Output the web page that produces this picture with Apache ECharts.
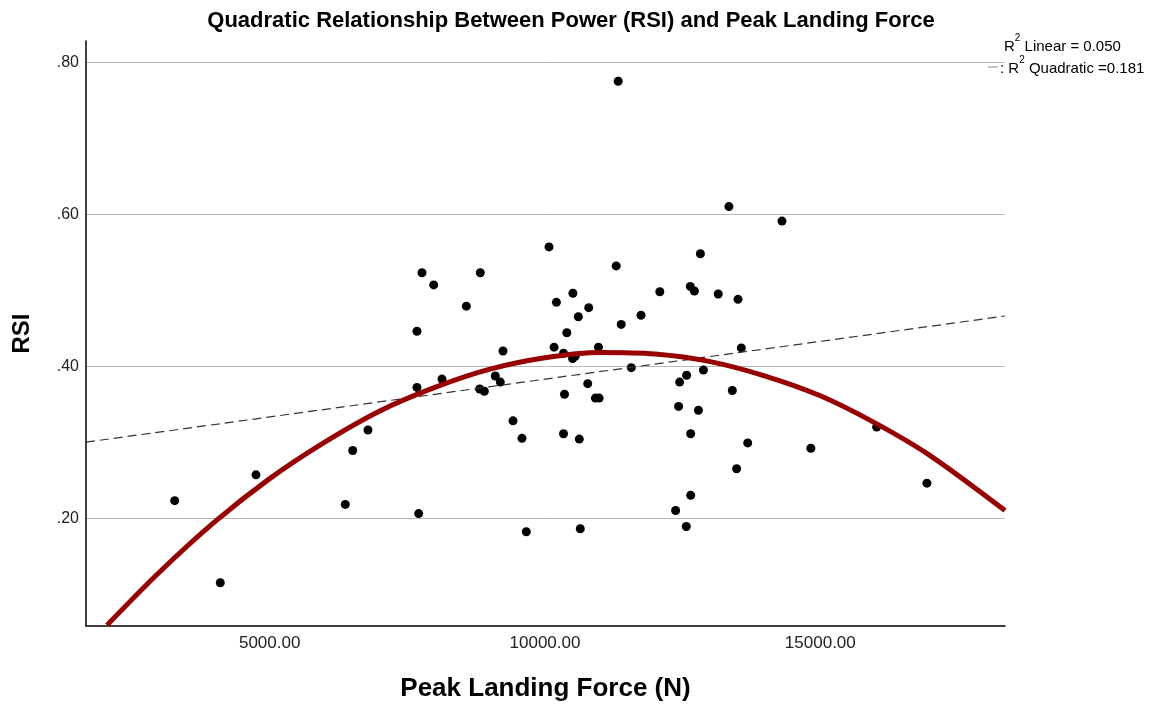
<!DOCTYPE html>
<html>
<head>
<meta charset="utf-8">
<title>RSI vs Peak Landing Force</title>
<script src="https://cdn.jsdelivr.net/npm/echarts@6/dist/echarts.min.js"></script>
<style>
    html, body { margin: 0; padding: 0; background: #fff; overflow: hidden; }
    #chartdiv { width: 1153px; height: 706px; }
</style>
</head>
<body>
<div id="chartdiv"></div>
<script>
// observed cases: peak landing force (N) and RSI
var forceN = [7766, 8825, 7979, 8571, 7675, 9237, 8129, 7675, 8814, 8898,
              9097, 9188, 9419, 9582, 6785, 6508, 4751, 3275, 6373, 7706,
              9660, 4103, 11329, 13340, 14304, 10073, 12822, 11293, 12639, 12713,
              12085, 10507, 13146, 13505, 10207, 10794, 10605, 11744, 11384, 10396,
              10165, 10970, 13565, 10336, 10501, 10548, 11567, 12877, 12572, 12445,
              10776, 10354, 10915, 10983, 13402, 12426, 12786, 16023, 10336, 10623,
              12646, 13681, 14828, 13480, 16936, 12646, 12372, 10641, 12566];
var rsi = [0.523, 0.523, 0.507, 0.479, 0.446, 0.420, 0.383, 0.372, 0.370, 0.367,
           0.387, 0.379, 0.328, 0.305, 0.316, 0.289, 0.257, 0.223, 0.218, 0.206,
           0.182, 0.115, 0.775, 0.610, 0.591, 0.557, 0.548, 0.532, 0.505, 0.499,
           0.498, 0.496, 0.495, 0.488, 0.484, 0.477, 0.465, 0.467, 0.455, 0.444,
           0.425, 0.425, 0.424, 0.417, 0.410, 0.413, 0.398, 0.395, 0.388, 0.379,
           0.377, 0.363, 0.358, 0.358, 0.368, 0.347, 0.342, 0.320, 0.311, 0.304,
           0.311, 0.299, 0.292, 0.265, 0.246, 0.230, 0.210, 0.186, 0.189];

// fit lines
var quadFitX = [2045, 3000, 4000, 5000, 6000, 7000, 8000, 9000, 10000,
                11000, 12000, 13000, 14000, 15000, 16000, 17000, 18354];
var quadFitY = [0.059, 0.129, 0.195, 0.252, 0.300, 0.341, 0.372, 0.396, 0.411,
                0.418, 0.416, 0.406, 0.387, 0.361, 0.325, 0.282, 0.210];
var linFitX = [1664, 18354];
var linFitY = [0.300, 0.466];

var xTicks = [5000, 10000, 15000];
var yTicks = [0.2, 0.4, 0.6, 0.8];

var fontName = '"Liberation Sans", Arial, sans-serif';

function zip(a, b) {
    var out = [];
    for (var i = 0; i < a.length; i++) out.push([a[i], b[i]]);
    return out;
}

var chartDom = document.getElementById('chartdiv');
var plot = echarts.init(chartDom, null, { renderer: 'canvas' });

var legendRich = {
    n: { fontFamily: fontName, fontSize: 15, color: '#000', lineHeight: 21, verticalAlign: 'bottom' },
    s: { fontFamily: fontName, fontSize: 10, color: '#000', lineHeight: 21, verticalAlign: 'top' }
};

var options = {
    animation: false,
    backgroundColor: '#fff',
    textStyle: { fontFamily: fontName },
    title: {
        text: 'Quadratic Relationship Between Power (RSI) and Peak Landing Force',
        left: 566,
        top: 5,
        textAlign: 'center',
        textStyle: { fontFamily: fontName, fontSize: 22, fontWeight: 'bold', color: '#000' }
    },
    grid: {
        left: 86,
        right: 148,
        top: 41,
        bottom: 80,
        containLabel: false,
        outerBoundsMode: 'none'
    },
    xAxis: {
        type: 'value',
        min: 1664,
        max: 18354,
        name: 'Peak Landing Force (N)',
        nameLocation: 'middle',
        nameGap: 50,
        nameTextStyle: { fontFamily: fontName, fontSize: 26, fontWeight: 'bold', color: '#000' },
        axisLine: { show: true, lineStyle: { color: '#000', width: 1.5 } },
        axisTick: { show: false, customValues: xTicks },
        splitLine: { show: false },
        axisLabel: {
            customValues: xTicks,
            margin: 9,
            fontSize: 17,
            color: '#222',
            fontFamily: fontName,
            formatter: function (v) { return v.toFixed(2); }
        }
    },
    yAxis: {
        type: 'value',
        min: 0.058,
        max: 0.828,
        name: 'RSI',
        nameLocation: 'middle',
        nameGap: 52,
        nameTextStyle: { fontFamily: fontName, fontSize: 24, fontWeight: 'bold', color: '#000' },
        axisLine: { show: true, lineStyle: { color: '#000', width: 1.5 } },
        axisTick: { show: false, customValues: yTicks },
        splitLine: { show: true, lineStyle: { color: '#b8b8b8', width: 1 } },
        axisLabel: {
            customValues: yTicks,
            margin: 7,
            fontSize: 16,
            color: '#222',
            fontFamily: fontName,
            formatter: function (v) { return v.toFixed(2).replace(/^0/, ''); }
        }
    },
    graphic: [
        {
            type: 'text',
            left: 1004,
            top: 33,
            style: { text: '{n|R}{s|2}{n| Linear = 0.050}', rich: legendRich }
        },
        {
            type: 'line',
            shape: { x1: 988, y1: 67, x2: 998, y2: 67 },
            style: { stroke: '#888', lineWidth: 1 }
        },
        {
            type: 'text',
            left: 1000,
            top: 55,
            style: { text: '{n|: R}{s|2}{n| Quadratic =0.181}', rich: legendRich }
        }
    ],
    series: [
        {
            name: 'Observed',
            type: 'scatter',
            data: zip(forceN, rsi),
            symbol: 'circle',
            symbolSize: 9,
            itemStyle: { color: '#000', opacity: 1 },
            z: 2
        },
        {
            name: 'Linear',
            type: 'line',
            data: zip(linFitX, linFitY),
            showSymbol: false,
            symbol: 'none',
            lineStyle: { color: '#333', width: 1.2, type: [9, 5] },
            z: 3
        },
        {
            name: 'Quadratic',
            type: 'line',
            data: zip(quadFitX, quadFitY),
            smooth: 0.3,
            showSymbol: false,
            symbol: 'none',
            lineStyle: { color: '#990000', width: 5 },
            z: 4
        }
    ]
};

options && plot.setOption(options);
</script>
</body>
</html>
